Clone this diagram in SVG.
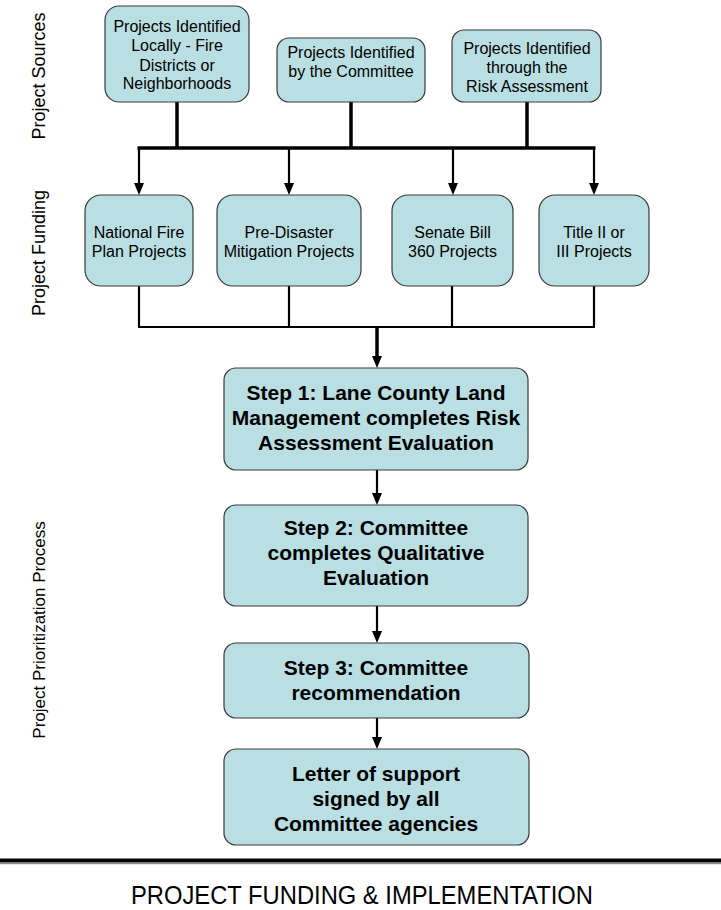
<svg xmlns="http://www.w3.org/2000/svg" width="721" height="910" viewBox="0 0 721 910">
<style>
.box{fill:#b9dfe2;stroke:#3a3a3a;stroke-width:1.2}
.t{font-family:"Liberation Sans",Arial,sans-serif;font-size:16px;fill:#000;text-anchor:middle}
.b{font-family:"Liberation Sans",Arial,sans-serif;font-size:21px;font-weight:bold;fill:#000;text-anchor:middle}
.side{font-family:"Liberation Sans",Arial,sans-serif;font-size:18px;fill:#000;text-anchor:middle}
.thick{stroke:#000;stroke-width:3.5;fill:none}
.thin{stroke:#000;stroke-width:2.2;fill:none}
</style>
<rect width="721" height="910" fill="#fff"/>
<g id="labels">
<text class="side" transform="translate(45,76) rotate(-90)">Project Sources</text>
<text class="side" transform="translate(45,253) rotate(-90)">Project Funding</text>
<text class="side" transform="translate(45,630) rotate(-90)" style="font-size:17px">Project Prioritization Process</text>
</g>
<g id="connectors">
<path class="thick" d="M177,102 V148 M351,102 V148 M527,102 V148 M137.5,148 H595.5"/>
<path class="thin" d="M139,148 V184 M289,148 V184 M453,148 V184 M594,148 V184"/>
<path d="M134,183 H144 L139,195 Z M284,183 H294 L289,195 Z M448,183 H458 L453,195 Z M589,183 H599 L594,195 Z" fill="#000"/>
<path class="thin" d="M139,286 V327 M289,286 V327 M452,286 V327 M594,286 V327 M138,327 H595"/>
<path class="thick" d="M377,326 V357"/>
<path d="M372,356 H382 L377,368 Z" fill="#000"/>
<path class="thin" d="M377,470 V494 M377,606 V632 M377,718 V738"/>
<path d="M372,493 H382 L377,505 Z M372,631 H382 L377,643 Z M372,737 H382 L377,749 Z" fill="#000"/>
</g>
<g id="src1">
<rect class="box" x="105" y="6" width="144" height="96" rx="14"/>
<text class="t" x="177" y="31.5">Projects Identified</text>
<text class="t" x="177" y="51">Locally - Fire</text>
<text class="t" x="177" y="70.5">Districts or</text>
<text class="t" x="177" y="89">Neighborhoods</text>
</g>
<g id="src2">
<rect class="box" x="277" y="38" width="148" height="64" rx="12"/>
<text class="t" x="351" y="57.5">Projects Identified</text>
<text class="t" x="351" y="76.5">by the Committee</text>
</g>
<g id="src3">
<rect class="box" x="452" y="30" width="149" height="72" rx="12"/>
<text class="t" x="527" y="53.5">Projects Identified</text>
<text class="t" x="527" y="72.5">through the</text>
<text class="t" x="527" y="91.5">Risk Assessment</text>
</g>
<g id="fund1">
<rect class="box" x="85" y="195" width="108" height="91" rx="16"/>
<text class="t" x="139" y="237.5">National Fire</text>
<text class="t" x="139" y="256.5">Plan Projects</text>
</g>
<g id="fund2">
<rect class="box" x="217" y="195" width="144" height="91" rx="16"/>
<text class="t" x="289" y="237.5">Pre-Disaster</text>
<text class="t" x="289" y="256.5">Mitigation Projects</text>
</g>
<g id="fund3">
<rect class="box" x="392" y="195" width="121" height="91" rx="16"/>
<text class="t" x="452.5" y="237.5">Senate Bill</text>
<text class="t" x="452.5" y="256.5">360 Projects</text>
</g>
<g id="fund4">
<rect class="box" x="539" y="195" width="110" height="91" rx="16"/>
<text class="t" x="594" y="237.5">Title II or</text>
<text class="t" x="594" y="256.5">III Projects</text>
</g>
<g id="step1">
<rect class="box" x="224" y="368" width="304" height="102" rx="12"/>
<text class="b" x="376" y="399.5">Step 1: Lane County Land</text>
<text class="b" x="376" y="424.5">Management completes Risk</text>
<text class="b" x="376" y="449.5">Assessment Evaluation</text>
</g>
<g id="step2">
<rect class="box" x="224" y="505" width="304" height="101" rx="12"/>
<text class="b" x="376" y="534.5">Step 2: Committee</text>
<text class="b" x="376" y="560">completes Qualitative</text>
<text class="b" x="376" y="584.5">Evaluation</text>
</g>
<g id="step3">
<rect class="box" x="224" y="643" width="305" height="75" rx="12"/>
<text class="b" x="376" y="674.5">Step 3: Committee</text>
<text class="b" x="376" y="699.5">recommendation</text>
</g>
<g id="letter">
<rect class="box" x="224" y="749" width="305" height="96" rx="12"/>
<text class="b" x="376" y="780.5">Letter of support</text>
<text class="b" x="376" y="805.5">signed by all</text>
<text class="b" x="376" y="830.5">Committee agencies</text>
</g>
<g id="footer">
<rect x="0" y="858.5" width="721" height="4" fill="#000"/>
<rect x="0" y="863" width="721" height="1.2" fill="#888"/>
<text x="362" y="904" font-family="'Liberation Sans',Arial,sans-serif" font-size="25" text-anchor="middle" textLength="462" lengthAdjust="spacingAndGlyphs">PROJECT FUNDING &amp; IMPLEMENTATION</text>
</g>
</svg>
